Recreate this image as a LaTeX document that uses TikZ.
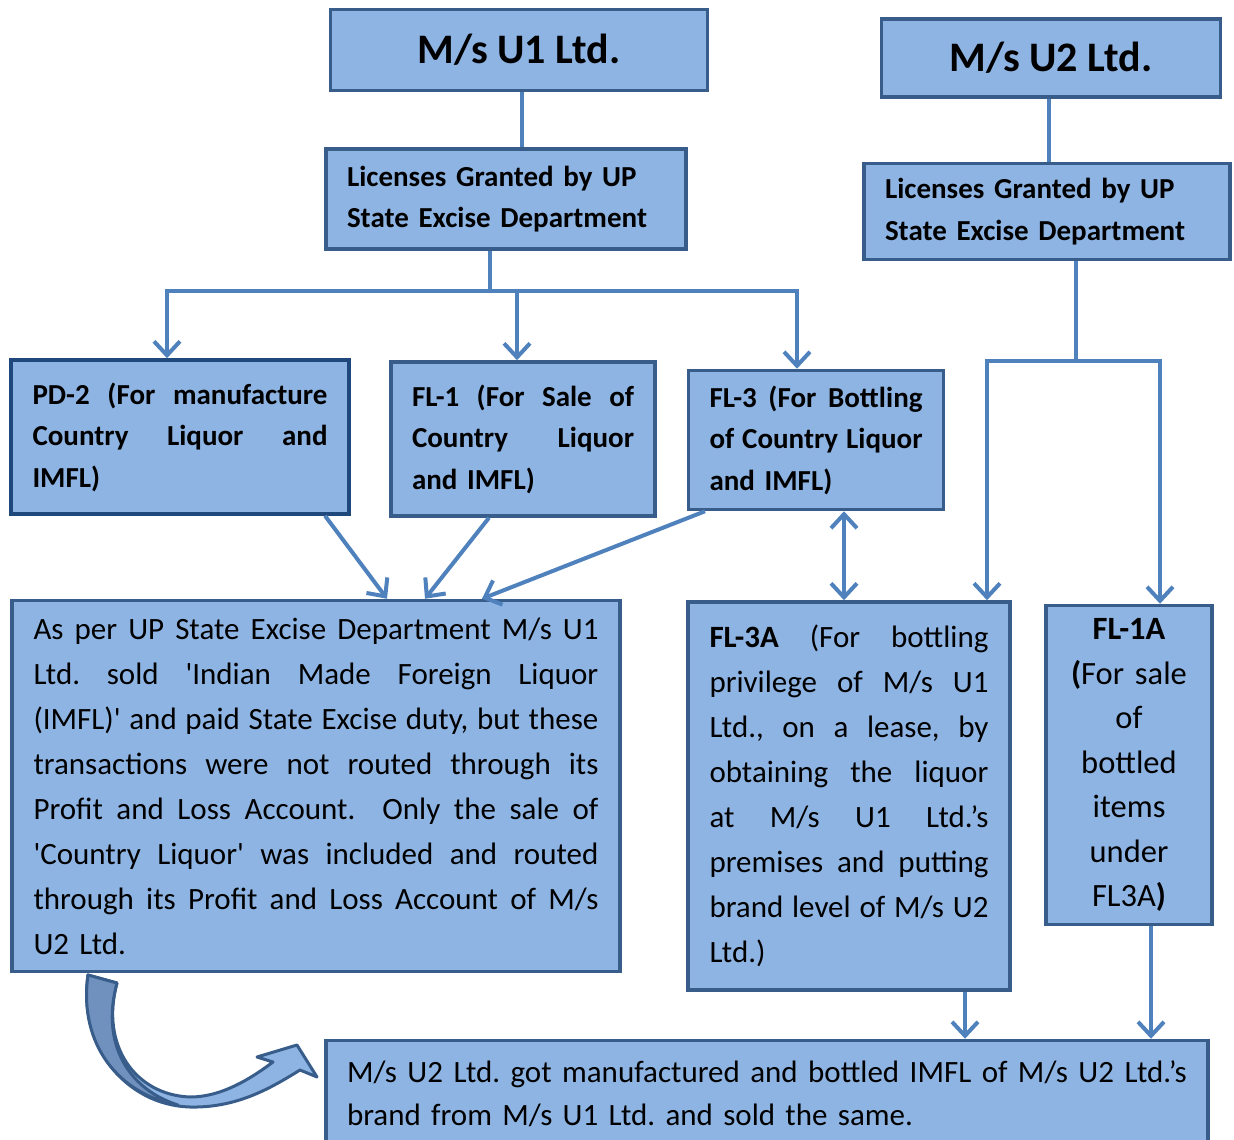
\documentclass[tikz,border=0pt]{standalone}
\usepackage{fontspec}
\setmainfont{Carlito}
\usepackage{tikz}
\usetikzlibrary{arrows.meta,positioning}
\definecolor{cajafondo}{RGB}{142,180,227}
\definecolor{cajaborde}{RGB}{56,93,138}
\definecolor{cajaoscuro}{RGB}{31,73,125}
\definecolor{linea}{RGB}{79,129,189}
\definecolor{flechaoscura}{RGB}{112,145,190}
\newcommand\jline[2]{\makebox[#1][s]{\spaceskip=0pt\xspaceskip=0pt\relax#2}}

\begin{document}
\begin{tikzpicture}[x=1pt,y=-1pt,
empresa/.style={draw=cajaborde,line width=3.5pt,fill=cajafondo,align=center,font=\fontsize{42}{50}\selectfont\bfseries},
licencia/.style={draw=cajaborde,line width=3.5pt,fill=cajafondo,align=left,font=\fontsize{29}{41.5}\selectfont\bfseries\frenchspacing},
texto/.style={draw=cajaborde,line width=3.5pt,fill=cajafondo,align=left,font=\fontsize{31}{45}\selectfont\frenchspacing},
con/.style={line width=4pt,draw=linea},
arr/.style={con,-{Straight Barb[length=14pt,width=26pt]}},
darr/.style={con,{Straight Barb[length=14pt,width=26pt]}-{Straight Barb[length=14pt,width=26pt]}}
]
\useasboundingbox (0,0) rectangle (1234,1140);

\node[empresa,minimum width=377pt,minimum height=81pt] (u1) at (519,50) {M/s U1 Ltd.};
\node[licencia,minimum width=360pt,minimum height=100pt,text width=318pt,below=55pt of u1,xshift=-13pt] (lic1) {Licenses Granted by UP\\State Excise Department};
\node[empresa,minimum width=339pt,minimum height=78pt] (u2) at (1051,58) {M/s U2 Ltd.};
\node[licencia,minimum width=366pt,minimum height=96pt,text width=324pt,below=63pt of u2,xshift=-4pt] (lic2) {Licenses Granted by UP\\State Excise Department};

\node[licencia,draw=cajaoscuro,minimum width=338pt,minimum height=154pt,text width=295pt] (pd2) at (180,437)
  {\jline{295pt}{PD-2 (For manufacture}\\\jline{295pt}{Country Liquor and}\\IMFL)};
\node[licencia,minimum width=264pt,minimum height=154pt,text width=222pt] (fl1) at (523,439)
  {\jline{222pt}{FL-1 (For Sale of}\\\jline{222pt}{Country Liquor}\\and IMFL)};
\node[licencia,minimum width=255pt,minimum height=139pt,text width=213pt] (fl3) at (816,440)
  {\jline{213pt}{FL-3 (For Bottling}\\\jline{213pt}{of Country Liquor}\\and IMFL)};

\node[texto,minimum width=608pt,minimum height=371pt,text width=565pt] (venta) at (316,786)
  {\jline{565pt}{As per UP State Excise Department M/s U1}\\
   \jline{565pt}{Ltd. sold \textquotesingle Indian Made Foreign Liquor}\\
   \jline{565pt}{(IMFL)\textquotesingle\ and paid State Excise duty, but these}\\
   \jline{565pt}{transactions were not routed through its}\\
   \jline{565pt}{Profit and Loss Account.\ \ Only the sale of}\\
   \jline{565pt}{\textquotesingle Country Liquor\textquotesingle\ was included and routed}\\
   \jline{565pt}{through its Profit and Loss Account of M/s}\\
   U2 Ltd.};
\node[texto,minimum width=322pt,minimum height=388pt,text width=279pt] (fl3a) at (849,796)
  {\jline{279pt}{\textbf{FL-3A} (For bottling}\\
   \jline{279pt}{privilege of M/s U1}\\
   \jline{279pt}{Ltd., on a lease, by}\\
   \jline{279pt}{obtaining the liquor}\\
   \jline{279pt}{at M/s U1 Ltd.’s}\\
   \jline{279pt}{premises and putting}\\
   \jline{279pt}{brand level of M/s U2}\\
   Ltd.)};
\node[texto,align=center,font=\fontsize{32.5}{44.5}\selectfont,minimum width=166pt,minimum height=319pt,text width=150pt] (fl1a) at (1129,765)
  {\textbf{FL-1A}\\\textbf{(}For sale\\of\\bottled\\items\\under\\FL3A\textbf{)}};
\node[texto,font=\fontsize{31}{43}\selectfont\frenchspacing,minimum width=882pt,minimum height=107pt,text width=840pt] (marca) at (767,1094)
  {\jline{840pt}{M/s U2 Ltd. got manufactured and bottled IMFL of M/s U2 Ltd.’s}\\brand from M/s U1 Ltd. and sold the same.};

% left side
\draw[con] (u1.south -| 522,0) -- (lic1.north -| 522,0);
\draw[con] ([xshift=-16pt]lic1.south) -- ++(0,40) coordinate (b1);
\draw[arr] (b1) -| ([xshift=-13pt]pd2.north);
\draw[arr] (b1) -| ([xshift=-6pt]fl1.north);
\draw[arr] (b1) -| ([xshift=-19pt]fl3.north);
\draw[arr] ([xshift=145pt]pd2.south) -- ([xshift=71pt]venta.north);
\draw[arr] ([xshift=-34pt]fl1.south) -- ([xshift=109pt]venta.north);
\draw[arr] ([xshift=-111pt]fl3.south) -- ([xshift=166pt]venta.north);
\draw[darr] ([xshift=28pt]fl3.south) -- (fl3a.north -| 844,0);

% right side
\draw[con] (u2.south -| 1049,0) -- (lic2.north -| 1049,0);
\draw[con] ([xshift=29pt]lic2.south) -- ++(0,100) coordinate (b2);
\draw[arr] (b2) -| ([xshift=138pt]fl3a.north);
\draw[arr] (b2) -| ([xshift=31pt]fl1a.north);
\draw[arr] ([xshift=116pt]fl3a.south) -- (marca.north -| 965,0);
\draw[arr] ([xshift=22pt]fl1a.south) -- (marca.north -| 1151,0);

% curved arrow
\filldraw[draw=cajaborde,fill=cajafondo,line width=3pt,line join=round]
  (88,975) .. controls (78,1045) and (125,1105) .. (190,1107)
  .. controls (235,1108) and (268,1090) .. (300,1070) -- (317,1077) -- (297,1045) -- (257,1057) -- (273,1062)
  .. controls (245,1083) and (218,1097) .. (190,1097)
  .. controls (135,1095) and (100,1045) .. (117,983) -- cycle;
\filldraw[draw=cajaborde,fill=flechaoscura,line width=3pt,line join=round]
  (88,975) .. controls (78,1045) and (120,1095) .. (178,1105)
  .. controls (130,1090) and (100,1045) .. (117,983) -- cycle;
\end{tikzpicture}
\end{document}
